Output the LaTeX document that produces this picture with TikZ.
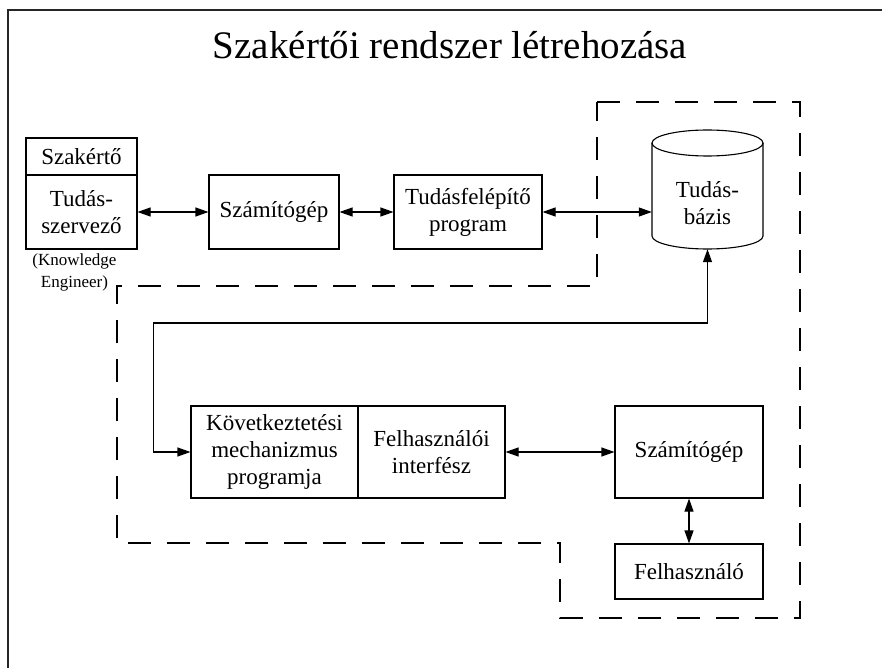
\documentclass[tikz,border=0pt]{standalone}
\usepackage{fontspec}
\setmainfont{Liberation Serif}
\usetikzlibrary{arrows.meta}
\begin{document}
\begin{tikzpicture}[x=1pt,y=-1pt,
  box/.style={draw,line width=1.1pt,inner sep=0pt,align=center,
    font=\fontsize{23}{27}\selectfont},
  link/.style={line width=1.1pt,{Triangle[length=13pt,width=9pt]}-{Triangle[length=13pt,width=9pt]}},
  boundary/.style={line width=1.3pt,dash pattern=on 23pt off 16pt},
  frame/.style={line width=2pt,black!85}]
\useasboundingbox (0,0) rectangle (882,668);

% outer frame (open to the right and bottom)
\draw[frame] (8,668) -- (8,10) -- (882,10);

% title
\node[anchor=base,font=\fontsize{39}{44}\selectfont] (title) at (450,59)
  {Szakértői rendszer létrehozása};

% knowledge acquisition row
\node[box,minimum width=111pt,minimum height=37pt] (szak) at (81.5,156.5) {Szakértő};
\node[box,minimum width=111pt,minimum height=74pt] (tudas) at (81.5,212) {Tudás-\\szervező};
\node[align=center,font=\fontsize{17}{22}\selectfont,inner sep=0pt,anchor=north]
  (ke) at (74.5,254) {(Knowledge\\Engineer)};
\node[box,minimum width=130pt,minimum height=74pt] (szg1) at (274,212) {Számítógép};
\node[box,minimum width=148pt,minimum height=74pt] (tfp) at (468,212) {Tudásfelépítő\\program};

% knowledge base cylinder: an empty node gives the anchors, the outline is drawn by hand
\node[inner sep=0pt,minimum width=111pt,minimum height=119pt] (db) at (707.5,189.5) {};
\draw[line width=1.1pt,fill=white] (707.5,143) ellipse [x radius=55.5pt,y radius=13pt];
\draw[line width=1.1pt] (652,143) -- (652,236)
  arc[start angle=180,end angle=360,x radius=55.5pt,y radius=13pt] -- (763,143);
\node[align=center,font=\fontsize{23}{27}\selectfont,inner sep=0pt] (dbtext) at (707.5,203)
  {Tudás-\\bázis};

% consultation row
\node[box,minimum width=167pt,minimum height=92pt] (kov) at (274.5,452)
  {Következtetési\\mechanizmus\\programja};
\node[box,minimum width=147pt,minimum height=92pt] (fi) at (431.5,452)
  {Felhasználói\\interfész};
\node[box,minimum width=148pt,minimum height=92pt] (szg2) at (689,452) {Számítógép};
\node[box,minimum width=148pt,minimum height=55pt] (felh) at (689,571.5) {Felhasználó};

% connectors
\draw[link] (tudas.east) -- (szg1.west);
\draw[link] (szg1.east) -- (tfp.west);
\draw[link] (tfp.east) -- (tfp.east -| db.west);
\draw[link] (kov.west) -- ++(-37,0) -- ++(0,-129) -| (db.south);
\draw[link] (fi.east) -- (szg2.west);
\draw[link] (szg2.south) -- (felh.north);

% system boundary
\draw[boundary] (597,102) -- (800,102) -- (800,618) -- (560,618) -- (560,543)
  -- (117,543) -- (117,286) -- (597,286) -- cycle;
\end{tikzpicture}
\end{document}
